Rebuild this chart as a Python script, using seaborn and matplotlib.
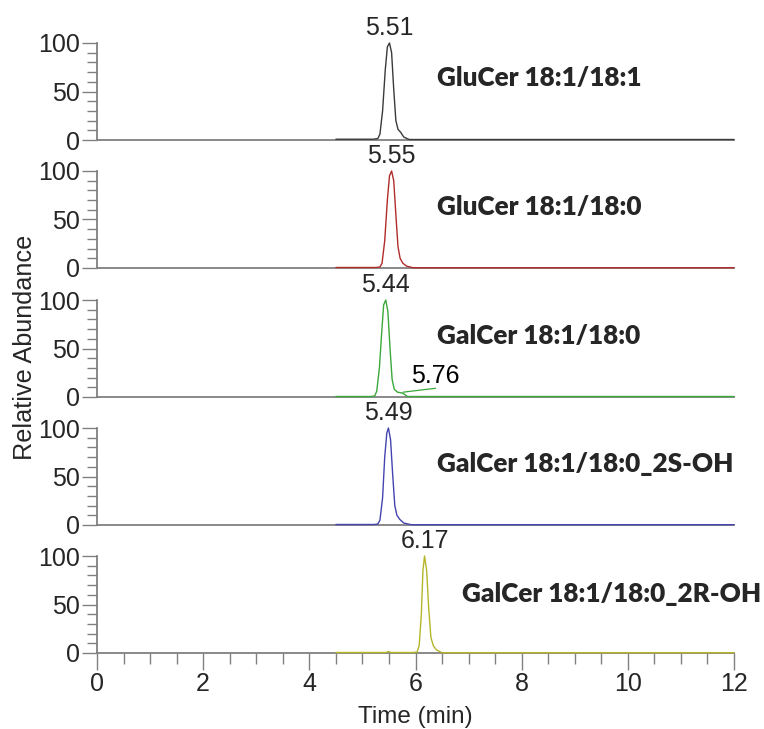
import numpy as np
import pandas as pd
import matplotlib
matplotlib.use("Agg")
import matplotlib.pyplot as plt
import seaborn as sns

# chromatogram traces (time in min, relative abundance in %)
t_glucer_181 = [4.50, 5.20, 5.29, 5.33, 5.38, 5.43, 5.47, 5.51, 5.55, 5.59, 5.63, 5.67, 5.72, 5.78, 5.88, 12.0]
y_glucer_181 = [0.8, 0.8, 1.5, 6, 30, 72, 96, 100, 90, 52, 20, 11, 8, 3, 0.5, 0.5]

t_glucer_180 = [4.50, 5.25, 5.33, 5.37, 5.42, 5.47, 5.51, 5.55, 5.59, 5.63, 5.67, 5.71, 5.76, 5.83, 5.95, 12.0]
y_glucer_180 = [0.5, 0.5, 1, 5, 28, 70, 95, 100, 90, 55, 22, 10, 5, 2, 0.3, 0.3]

t_galcer_180 = [4.50, 5.15, 5.23, 5.27, 5.32, 5.37, 5.40, 5.44, 5.48, 5.52, 5.56, 5.60, 5.66, 5.76, 5.85, 12.0]
y_galcer_180 = [0.5, 0.5, 1, 6, 30, 72, 95, 100, 88, 50, 18, 8, 5, 4, 0.5, 0.5]

t_galcer_2s = [4.50, 5.22, 5.29, 5.33, 5.38, 5.42, 5.46, 5.49, 5.53, 5.57, 5.61, 5.65, 5.70, 5.78, 5.92, 12.0]
y_galcer_2s = [0.5, 0.5, 1, 5, 28, 70, 95, 100, 88, 52, 20, 10, 6, 2, 0.3, 0.3]

t_galcer_2r = [4.50, 5.44, 5.49, 5.54, 5.95, 6.03, 6.07, 6.11, 6.14, 6.17, 6.21, 6.25, 6.29, 6.34, 6.40, 6.50, 12.0]
y_galcer_2r = [0.5, 0.5, 1.5, 0.5, 0.5, 1, 8, 40, 85, 100, 85, 45, 16, 7, 3, 0.3, 0.3]

traces = [
    (t_glucer_181, y_glucer_181),
    (t_glucer_180, y_glucer_180),
    (t_galcer_180, y_galcer_180),
    (t_galcer_2s, y_galcer_2s),
    (t_galcer_2r, y_galcer_2r),
]
names = ["GluCer 18:1/18:1", "GluCer 18:1/18:0", "GalCer 18:1/18:0",
         "GalCer 18:1/18:0_2S-OH", "GalCer 18:1/18:0_2R-OH"]
colors = ["#3a3a3a", "#b22b2b", "#3aa83a", "#4444b0", "#b5b52a"]
peak_rt = [5.51, 5.55, 5.44, 5.49, 6.17]
name_pos = [(6.41, 64), (6.41, 63), (6.41, 63), (6.41, 63), (6.88, 61)]

sns.set_style("white")
plt.rcParams["font.family"] = ["Liberation Sans", "DejaVu Sans"]

W, H = 764, 729
fig = plt.figure(figsize=(W / 100, H / 100), dpi=100)

zero_px = [140, 268, 397, 525, 653]
left_px, right_px, h_px = 97, 734, 97
grey = "#808080"

for i, (t, y) in enumerate(traces):
    ax = fig.add_axes([left_px / W, (H - zero_px[i]) / H, (right_px - left_px) / W, h_px / H])
    df = pd.DataFrame({"time": t, "abundance": y})
    sns.lineplot(data=df, x="time", y="abundance", ax=ax, color=colors[i],
                 linewidth=1.0, clip_on=False, zorder=3)
    ax.set_xlim(0, 12)
    ax.set_ylim(0, 100)
    ax.patch.set_alpha(0)
    for s in ["top", "right"]:
        ax.spines[s].set_visible(False)
    for s in ["left", "bottom"]:
        ax.spines[s].set_color(grey)
        ax.spines[s].set_linewidth(1.3)
    ax.set_yticks([0, 50, 100])
    ax.set_yticks(np.arange(0, 101, 10), minor=True)
    ax.tick_params(axis="y", which="major", length=11, width=1, color=grey,
                   labelsize=18, pad=1.5, direction="out", left=True)
    ax.tick_params(axis="y", which="minor", length=7.5, width=1, color=grey,
                   direction="out", left=True)
    ax.set_xlabel("")
    ax.set_ylabel("")
    if i < 4:
        ax.set_xticks([])
        ax.tick_params(axis="x", which="both", bottom=False, labelbottom=False)
    else:
        ax.set_xticks(range(0, 13, 2))
        ax.set_xticks(np.arange(0, 12.01, 0.5), minor=True)
        ax.tick_params(axis="x", which="major", length=12, width=1, color=grey,
                       labelsize=18, pad=2, direction="out", bottom=True)
        ax.tick_params(axis="x", which="minor", length=8, width=1, color=grey,
                       direction="out", bottom=True)

    ax.annotate(f"{peak_rt[i]:.2f}", xy=(peak_rt[i], 100), xytext=(0, 2),
                textcoords="offset points", ha="center", va="bottom",
                fontsize=18, annotation_clip=False)
    ax.text(name_pos[i][0], name_pos[i][1], names[i], fontsize=18.8,
            fontweight="heavy", family=["Lato", "DejaVu Sans"], va="center", ha="left")

    if i == 2:
        # small shoulder peak with its leader line
        ax.annotate("5.76", xy=(5.77, 5), xytext=(6.38, 9), ha="center", va="bottom",
                    fontsize=18, color="black",
                    arrowprops=dict(arrowstyle="-", color=colors[i], lw=0.9,
                                    relpos=(0.5, 0.0), patchA=None,
                                    shrinkA=0, shrinkB=0))

fig.text(0.033, 0.524, "Relative Abundance", rotation=90, ha="center", va="center", fontsize=18.2)
fig.text(415.5 / W, 1 - 717 / H, "Time (min)", ha="center", va="center", fontsize=17.5)

fig.savefig("out.png", dpi=100)
